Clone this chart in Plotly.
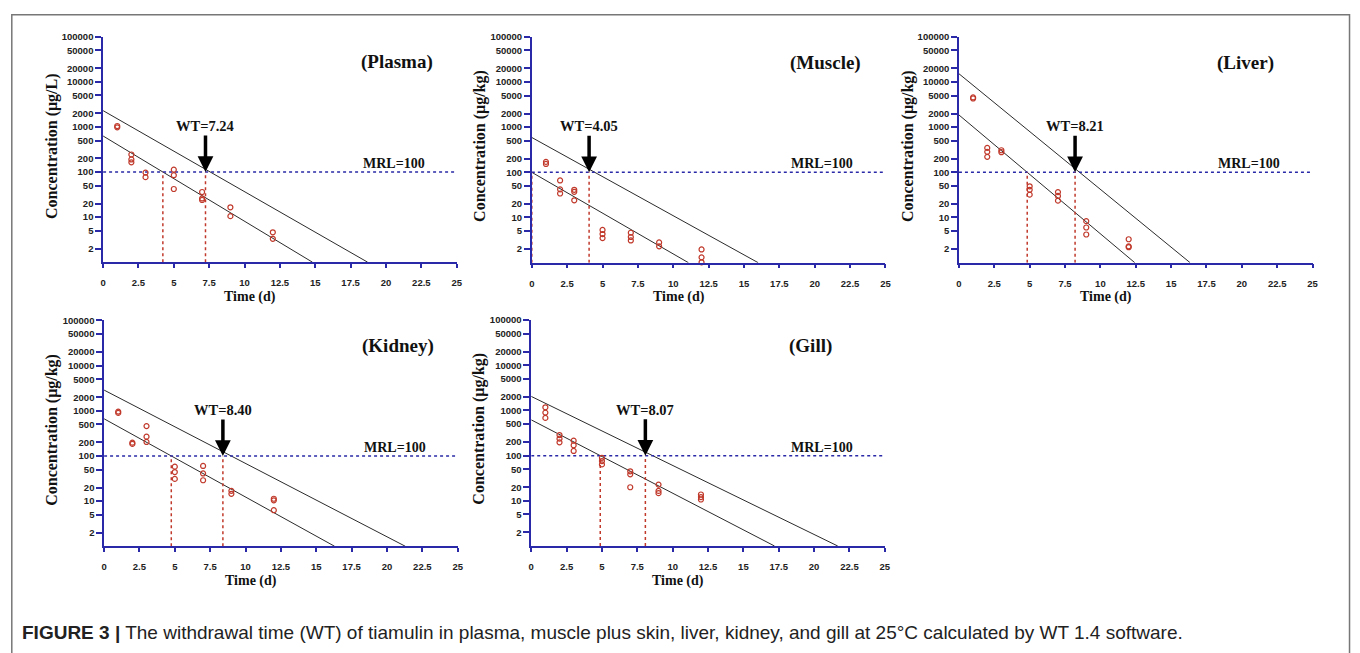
import plotly.graph_objects as go
import math

# page is rendered with an 8px body margin -> work in page pixels and subtract it
OFF = 8
W, H = 1360 - OFF, 653 - OFF

# ---------------- data ----------------
panel_names = ["(Plasma)", "(Muscle)", "(Liver)", "(Kidney)", "(Gill)"]
y_titles = ["Concentration (μg/L)", "Concentration (μg/kg)", "Concentration (μg/kg)",
            "Concentration (μg/kg)", "Concentration (μg/kg)"]

plasma_t = [1, 1, 2, 2, 2, 3, 3, 5, 5, 5, 7, 7, 7, 9, 9, 12, 12]
plasma_c = [1050, 980, 245, 190, 164, 97, 77, 113, 85, 42, 36, 26, 24, 16.5, 10.5, 4.6, 3.3]

muscle_t = [1, 1, 2, 2, 2, 3, 3, 3, 5, 5, 5, 7, 7, 7, 9, 9, 12, 12, 12]
muscle_c = [170, 153, 66, 42, 34, 41, 37, 24, 5.3, 4.3, 3.5, 4.6, 3.7, 3.1, 2.8, 2.3, 1.96, 1.31, 1.02]

liver_t = [1, 1, 2, 2, 2, 3, 3, 5, 5, 5, 7, 7, 7, 9, 9, 9, 12, 12, 12]
liver_c = [4540, 4300, 347, 284, 220, 308, 279, 49, 41, 32, 36.5, 30, 23.6, 8.3, 6.0, 4.2, 3.3, 2.3, 2.2]

kidney_t = [1, 1, 2, 2, 3, 3, 3, 5, 5, 5, 7, 7, 7, 9, 9, 12, 12, 12]
kidney_c = [960, 898, 197, 185, 458, 267, 204, 58, 44, 31, 60, 41, 29, 16.9, 14.5, 11.3, 10.4, 6.3]

gill_t = [1, 1, 1, 2, 2, 2, 3, 3, 3, 5, 5, 5, 7, 7, 7, 9, 9, 9, 12, 12, 12]
gill_c = [1175, 898, 686, 286, 238, 197, 215, 170, 127, 89.5, 76, 64, 45, 38.6, 20,
          22.9, 16.6, 14.8, 13.8, 12.1, 10.7]

wt_values = [7.24, 4.05, 8.21, 8.40, 8.07]
mrl = 100

# tolerance-limit (upper) and regression (lower) lines: value at t=0 and time where C reaches 1
upper_c0 = [2300, 590, 15200, 2870, 2050]
upper_end = [18.7, 16.0, 16.34, 21.3, 21.67]
lower_c0 = [630, 100, 1860, 665, 620]
lower_end = [14.8, 11.07, 12.43, 16.3, 17.2]

x_ticks = [0, 2.5, 5, 7.5, 10, 12.5, 15, 17.5, 20, 22.5, 25]
x_tick_text = ["0", "2.5", "5", "7.5", "10", "12.5", "15", "17.5", "20", "22.5", "25"]
y_ticks = [2, 5, 10, 20, 50, 100, 200, 500, 1000, 2000, 5000, 10000, 20000, 50000, 100000]
y_tick_text = [str(v) for v in y_ticks]

caption_bold = "FIGURE 3 |"
caption_text = ("The withdrawal time (WT) of tiamulin in plasma, muscle plus skin, liver, kidney, "
                "and gill at 25°C calculated by WT 1.4 software.")

series_t = [plasma_t, muscle_t, liver_t, kidney_t, gill_t]
series_c = [plasma_c, muscle_c, liver_c, kidney_c, gill_c]

# ---------------- layout geometry (page pixels) ----------------
boxes = [(100.7, 456.7, 31, 258.5), (532.3, 888.3, 31, 259), (962.3, 1318.3, 31, 259),
         (101.7, 457.7, 317.3, 545.3), (531.7, 887.7, 317, 545)]


def px(v):
    return (v - OFF) / W


def py(v):
    return 1 - (v - OFF) / H


BLUE = "#2a2aa8"
RED = "#c0392b"
LINE = "#2b2b2b"
SERIF = "Liberation Serif"
SANS = "Liberation Sans"

fig = go.Figure()
annotations = []
shapes = []

for i in range(5):
    n = "" if i == 0 else str(i + 1)
    xr, yr = "x" + n, "y" + n
    x0, x1, y0, y1 = boxes[i]

    fig.add_trace(go.Scatter(x=[0, upper_end[i]], y=[upper_c0[i], 1], mode="lines",
                             line=dict(color=LINE, width=1), xaxis=xr, yaxis=yr,
                             showlegend=False, hoverinfo="skip"))
    fig.add_trace(go.Scatter(x=[0, lower_end[i]], y=[lower_c0[i], 1], mode="lines",
                             line=dict(color=LINE, width=1), xaxis=xr, yaxis=yr,
                             showlegend=False, hoverinfo="skip"))
    fig.add_trace(go.Scatter(x=[0, 25], y=[mrl, mrl], mode="lines",
                             line=dict(color=BLUE, width=1.5, dash="dot"), xaxis=xr, yaxis=yr,
                             showlegend=False, hoverinfo="skip"))
    lc = math.log10(lower_c0[i])
    t_low = lower_end[i] * (1 - math.log10(mrl) / lc)
    for tv in (t_low, wt_values[i]):
        fig.add_trace(go.Scatter(x=[tv, tv], y=[1, mrl], mode="lines",
                                 line=dict(color=RED, width=1.5, dash="dot"), xaxis=xr, yaxis=yr,
                                 showlegend=False, hoverinfo="skip", cliponaxis=False))
    fig.add_trace(go.Scatter(x=series_t[i], y=series_c[i], mode="markers",
                             marker=dict(symbol="circle-open", size=5, color=RED,
                                         line=dict(width=1.2, color=RED)),
                             xaxis=xr, yaxis=yr, showlegend=False, cliponaxis=False))

    xa = dict(domain=[px(x0), px(x1)], range=[0, 25], anchor=yr,
              showline=True, linecolor=BLUE, linewidth=1.5,
              ticks="outside", tickcolor=BLUE, ticklen=4, tickwidth=1.5,
              tickvals=x_ticks, ticktext=x_tick_text,
              tickfont=dict(family=SANS, size=9.5, color="#222", weight="bold"),
              showgrid=False, zeroline=False, ticklabelstandoff=7, fixedrange=True)
    ya = dict(domain=[py(y1), py(y0)], type="log", range=[0, 5], anchor=xr,
              showline=True, linecolor=BLUE, linewidth=1.5,
              ticks="outside", tickcolor=BLUE, ticklen=6, tickwidth=1.5,
              tickvals=y_ticks, ticktext=y_tick_text,
              tickfont=dict(family=SANS, size=9.5, color="#222", weight="bold"),
              showgrid=False, zeroline=False, fixedrange=True)
    fig.layout["xaxis" + n] = xa
    fig.layout["yaxis" + n] = ya

    annotations.append(dict(x=18.1, y=4.43, xref=xr, yref=yr, text=panel_names[i],
                            showarrow=False, xanchor="left", yanchor="middle",
                            font=dict(family=SERIF, size=19, color="#111", weight="bold")))
    annotations.append(dict(x=18.2, y=2, xref=xr, yref=yr, text="MRL=" + str(mrl),
                            showarrow=False, xanchor="left", yanchor="bottom", yshift=-1,
                            font=dict(family=SERIF, size=14, color="#111", weight="bold")))
    annotations.append(dict(x=wt_values[i], y=2, xref=xr, yref=yr,
                            text="WT=%.2f" % wt_values[i], showarrow=True,
                            ax=0, ay=-46, arrowhead=2, arrowsize=0.9, arrowwidth=3.5,
                            arrowcolor="#000", standoff=0, startstandoff=0,
                            font=dict(family=SERIF, size=14.5, color="#111", weight="bold")))
    annotations.append(dict(x=px(x0 - 52), y=py((y0 + y1) / 2 - 4), xref="paper", yref="paper",
                            text=y_titles[i], textangle=-90, showarrow=False,
                            xanchor="center", yanchor="middle",
                            font=dict(family=SERIF, size=16, color="#111", weight="bold")))
    annotations.append(dict(x=10.4, y=py(y1 + 35), xref=xr, yref="paper",
                            text="Time (d)", showarrow=False, xanchor="center", yanchor="middle",
                            font=dict(family=SERIF, size=14, color="#111", weight="bold")))

annotations.append(dict(x=px(17), y=py(632.5), xref="paper", yref="paper",
                        text="<b>" + caption_bold + "</b> " + caption_text,
                        showarrow=False, xanchor="left", yanchor="middle",
                        font=dict(family=SANS, size=19, color="#222")))

shapes.append(dict(type="rect", xref="paper", yref="paper",
                   x0=px(8.8), x1=px(1355.5), y0=-0.05, y1=py(8.8),
                   line=dict(color="#777", width=1.5)))

fig.update_layout(width=W, height=H, margin=dict(l=0, r=0, t=0, b=0),
                  paper_bgcolor="white", plot_bgcolor="white",
                  annotations=annotations, shapes=shapes, showlegend=False)

fig.write_html("out.html")
